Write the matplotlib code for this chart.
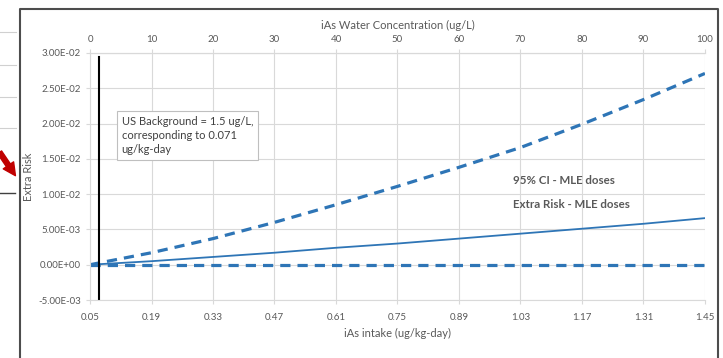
import matplotlib.pyplot as plt
from matplotlib.lines import Line2D
from matplotlib.patches import FancyArrowPatch

plt.rcParams['font.family'] = ['Lato', 'DejaVu Sans']

# iAs intake (ug/kg-day) at each 10 ug/L step of water concentration
intake = [0.05, 0.19, 0.33, 0.47, 0.61, 0.75, 0.89, 1.03, 1.17, 1.31, 1.45]
ci_upper = [0.0, 0.0017, 0.0037, 0.0060, 0.0085, 0.0111, 0.0138, 0.0166, 0.0199, 0.0234, 0.0271]
ci_lower = [0.0, 0.0, 0.0, 0.0, 0.0, 0.0, 0.0, 0.0, 0.0, 0.0, 0.0]
extra_risk = [0.0, 0.0005, 0.0011, 0.0017, 0.0024, 0.0030, 0.0037, 0.0044, 0.0051, 0.0058, 0.0066]

y_ticks = [-0.005, 0.0, 0.005, 0.01, 0.015, 0.02, 0.025, 0.03]
conc_ticks = [0, 10, 20, 30, 40, 50, 60, 70, 80, 90, 100]
background_intake = 0.071

blue = '#2E75B6'
gray_txt = '#595959'
grid_c = '#D9D9D9'

fig = plt.figure(figsize=(7.23, 3.58), dpi=100)
ax = fig.add_axes([0.1245, 0.162, 0.8505, 0.69])

ax.plot(intake, ci_upper, color=blue, lw=2.3, ls=(0, (3.2, 2.2)))
ax.plot(intake, ci_lower, color=blue, lw=2.3, ls=(0, (3.2, 2.2)))
ax.plot(intake, extra_risk, color=blue, lw=1.3)
ax.plot([background_intake, background_intake], [-0.005, 0.0295], color='black', lw=1.5)

ax.set_xlim(0.05, 1.45)
ax.set_ylim(-0.005, 0.03)
ax.set_xticks(intake)
ax.set_xticklabels(['%.2f' % v for v in intake])
ax.set_yticks(y_ticks)
ax.set_yticklabels(['%.2E' % v for v in y_ticks])
ax.grid(True, color=grid_c, lw=0.8)
ax.set_axisbelow(True)
for s in ax.spines.values():
    s.set_color(grid_c)
ax.spines['right'].set_visible(False)
ax.tick_params(axis='both', colors=grid_c, labelcolor=gray_txt, labelsize=7, length=3, width=0.8)
ax.tick_params(axis='x', pad=6)
ax.set_xlabel('iAs intake (ug/kg-day)', color=gray_txt, fontsize=8, labelpad=5)
ax.set_ylabel('Extra Risk', color=gray_txt, fontsize=8, labelpad=3)

top = ax.secondary_xaxis('top', functions=(lambda x: (x - 0.05) / 0.014, lambda c: c * 0.014 + 0.05))
top.set_xticks(conc_ticks)
top.spines['top'].set_color(grid_c)
top.tick_params(colors=grid_c, labelcolor=gray_txt, labelsize=7, length=3, width=0.8)
top.set_xlabel('iAs Water Concentration (ug/L)', color=gray_txt, fontsize=8, labelpad=4)

ax.text(0.122, 0.0183, 'US Background = 1.5 ug/L,\ncorresponding to 0.071\nug/kg-day',
        fontsize=8, color='#404040', va='center', ha='left', linespacing=1.35,
        bbox=dict(boxstyle='square,pad=0.45', fc='white', ec='#BFBFBF', lw=0.8))
ax.text(1.013, 0.0119, '95% CI - MLE doses', fontsize=8.3, color=gray_txt, weight='bold', va='center')
ax.text(1.013, 0.0086, 'Extra Risk - MLE doses', fontsize=8.3, color=gray_txt, weight='bold', va='center')

# surrounding screenshot frame and cut-off bits on the left
fig.add_artist(Line2D([20/723, 20/723, 718/723, 718/723], [-0.05, 1 - 9/358, 1 - 9/358, -0.05],
                      color='#4D4D4D', lw=1.5))
for yp in [32, 65, 97, 128]:
    fig.add_artist(Line2D([0, 16/723], [1 - yp/358, 1 - yp/358], color='#D0D0D0', lw=0.8))
fig.add_artist(Line2D([0, 15/723], [1 - 193/358, 1 - 193/358], color='#404040', lw=1.0))
fig.add_artist(FancyArrowPatch((-2/723, 1 - 150/358), (17/723, 1 - 178/358), transform=fig.transFigure,
                               arrowstyle='simple,head_width=9,head_length=9,tail_width=3.5',
                               color='#C00000'))

fig.savefig('out.png', dpi=100, facecolor='white')
